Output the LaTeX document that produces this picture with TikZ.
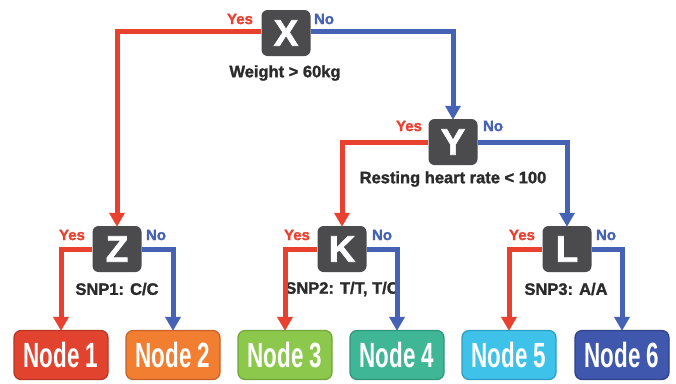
\documentclass[tikz,border=0pt]{standalone}
\usepackage{fontspec}
\setmainfont{Liberation Sans}
\newfontfamily\heavyfont{Liberation Sans}[BoldFeatures={FakeBold=1.6}]
\usetikzlibrary{arrows.meta}
\definecolor{lred}{HTML}{E8412F}
\definecolor{lblue}{HTML}{4562B5}
\definecolor{boxgray}{HTML}{4B4B4D}
\definecolor{txtdark}{HTML}{2B2B2B}
\definecolor{nA}{HTML}{E2432F}\definecolor{nAb}{HTML}{B83424}
\definecolor{nB}{HTML}{F27E32}\definecolor{nBb}{HTML}{C8602A}
\definecolor{nC}{HTML}{8CC84B}\definecolor{nCb}{HTML}{6FA53A}
\definecolor{nD}{HTML}{3FB796}\definecolor{nDb}{HTML}{2E9578}
\definecolor{nE}{HTML}{3EC2EA}\definecolor{nEb}{HTML}{2C9CC4}
\definecolor{nF}{HTML}{3F57AC}\definecolor{nFb}{HTML}{2F428A}
\begin{document}
\begin{tikzpicture}[x=1pt,y=-1pt,
  decbox/.style={fill=boxgray,rounded corners=6pt,minimum width=49pt,minimum height=46pt,inner sep=0pt,
    text=white,font=\heavyfont\fontsize{37}{37}\selectfont\bfseries},
  leafbox/.style={fill=#1,draw=#1b,line width=1.2pt,rounded corners=7pt,minimum width=94pt,minimum height=49pt,inner sep=0pt,
    text=white},
  yeslab/.style={text=lred,font=\heavyfont\fontsize{15}{15}\selectfont\bfseries,inner sep=0pt},
  nolab/.style={text=lblue,font=\heavyfont\fontsize{15}{15}\selectfont\bfseries,inner sep=0pt},
  condlab/.style={text=txtdark,font=\heavyfont\fontsize{16.5}{16.5}\selectfont\bfseries,inner sep=0pt},
  yesarr/.style={draw=lred,line width=5pt,-{Triangle[width=15pt,length=14pt]}},
  noarr/.style={draw=lblue,line width=5pt,-{Triangle[width=15pt,length=14pt]}}
]
\useasboundingbox (0,0) rectangle (676,383);
\newcommand{\leaftext}[1]{\scalebox{0.64}[1]{\fontsize{35}{35}\selectfont\bfseries #1}}

\node[decbox] (X) at (286,33) {X};
\node[decbox] (Y) at (453,142) {Y};
\node[decbox] (Z) at (117,249) {Z};
\node[decbox] (K) at (342,249) {K};
\node[decbox] (L) at (567,249) {L};

\node[leafbox=nA] (N1) at (61,355) {\leaftext{Node 1}};
\node[leafbox=nB] (N2) at (173,355) {\leaftext{Node 2}};
\node[leafbox=nC] (N3) at (285,355) {\leaftext{Node 3}};
\node[leafbox=nD] (N4) at (397,355) {\leaftext{Node 4}};
\node[leafbox=nE] (N5) at (509,355) {\leaftext{Node 5}};
\node[leafbox=nF] (N6) at (622,355) {\leaftext{Node 6}};

\node[yeslab] (xy) at (240,19) {Yes};
\node[nolab] (xn) at (324,19) {No};
\node[yeslab] (yy) at (409,126) {Yes};
\node[nolab] (yn) at (493,126) {No};
\node[yeslab] (zy) at (72,235) {Yes};
\node[nolab] (zn) at (156,235) {No};
\node[yeslab] (ky) at (297,235) {Yes};
\node[nolab] (kn) at (382,235) {No};
\node[yeslab] (ly) at (522,235) {Yes};
\node[nolab] (ln) at (606,235) {No};

\node[condlab] (cx) at (285,73) {Weight > 60kg};
\node[condlab] (cy) at (453,179) {Resting heart rate < 100};
\node[condlab] (cz) at (117,289) {SNP1: C/C};
\node[condlab] (ck) at (342,289) {SNP2: T/T, T/C};
\node[condlab] (cl) at (566,289) {SNP3: A/A};

\draw[yesarr] ([yshift=2pt]X.west) -| ([yshift=-1pt]Z.north);
\draw[noarr] ([yshift=2pt]X.east) -| ([yshift=-1pt]Y.north);
\draw[yesarr] (Y.west) -| ([yshift=-1pt]K.north);
\draw[noarr] (Y.east) -| ([yshift=-1pt]L.north);
\draw[yesarr] (Z.west) -| ([yshift=-1pt]N1.north);
\draw[noarr] (Z.east) -| ([yshift=-1pt]N2.north);
\draw[yesarr] (K.west) -| ([yshift=-1pt]N3.north);
\draw[noarr] (K.east) -| ([yshift=-1pt]N4.north);
\draw[yesarr] (L.west) -| ([yshift=-1pt]N5.north);
\draw[noarr] (L.east) -| ([yshift=-1pt]N6.north);
\end{tikzpicture}
\end{document}
